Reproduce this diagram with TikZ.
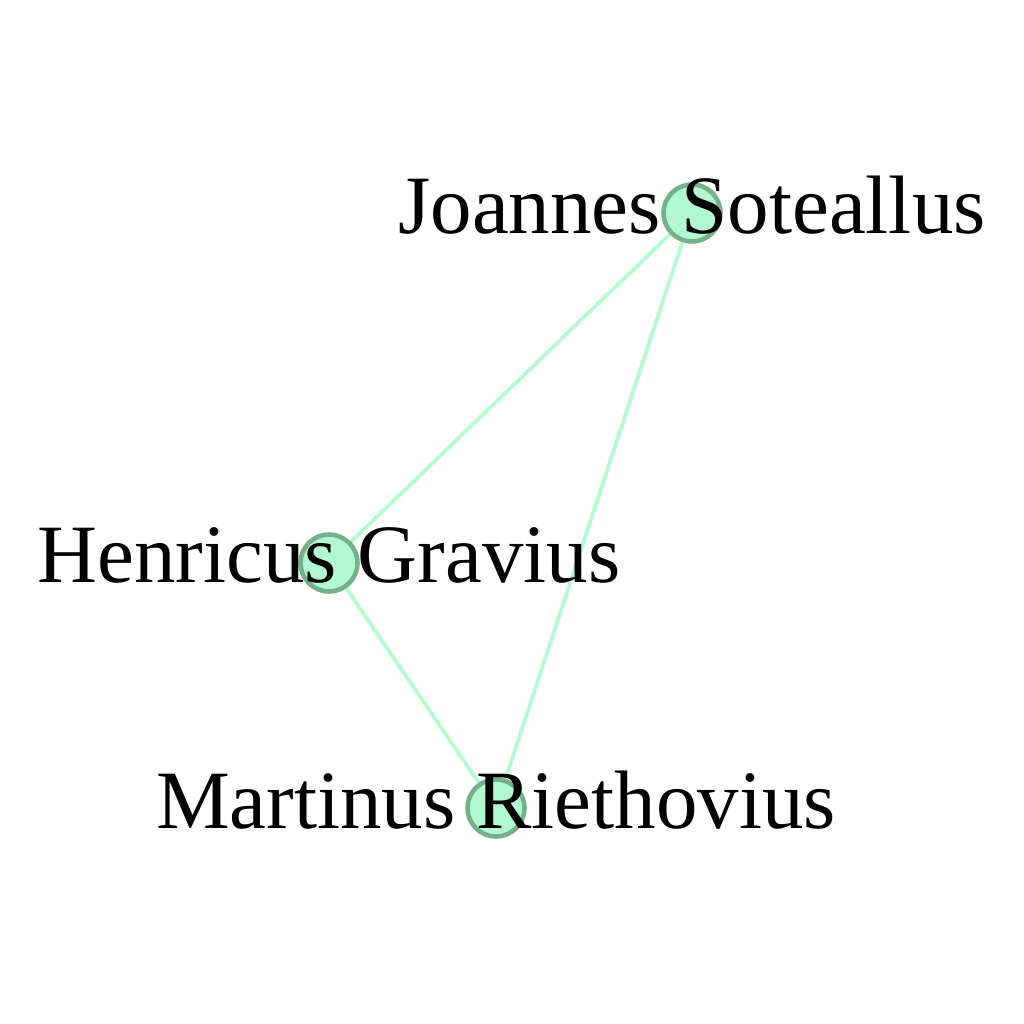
\documentclass[tikz,border=0pt]{standalone}
\usepackage{fontspec}
\setmainfont{Liberation Serif}
\definecolor{nodefill}{HTML}{B2F8D0}
\definecolor{nodeline}{HTML}{74B08A}
\definecolor{edgeline}{HTML}{B4FCCF}
\begin{document}
\begin{tikzpicture}[line join=round, line cap=round,
  person/.style={circle, fill=nodefill, draw=nodeline, line width=1.3pt, minimum size=0.57cm, inner sep=0pt},
  tie/.style={draw=edgeline, line width=1.1pt},
  personlabel/.style={font=\fontsize{23.6}{28}\selectfont, inner sep=0pt, yshift=0.08cm}]
% Khung hình
\useasboundingbox (0,0) rectangle (10.24,10.24);
% Các đỉnh
\coordinate (JS) at (6.92,8.11);
\coordinate (HG) at (3.29,4.61);
\coordinate (MR) at (4.96,2.16);
% Các cạnh
\path[tie] (JS) -- (HG);
\path[tie] (JS) -- (MR);
\path[tie] (HG) -- (MR);
% Vẽ đỉnh đè lên cạnh
\node[person] (JSdot) at (JS) {};
\node[person] (HGdot) at (HG) {};
\node[person] (MRdot) at (MR) {};
% Gắn nhãn
\node[personlabel] (JSlabel) at (JS) {Joannes Soteallus};
\node[personlabel] (HGlabel) at (HG) {Henricus Gravius};
\node[personlabel] (MRlabel) at (MR) {Martinus Riethovius};
\end{tikzpicture}
\end{document}
